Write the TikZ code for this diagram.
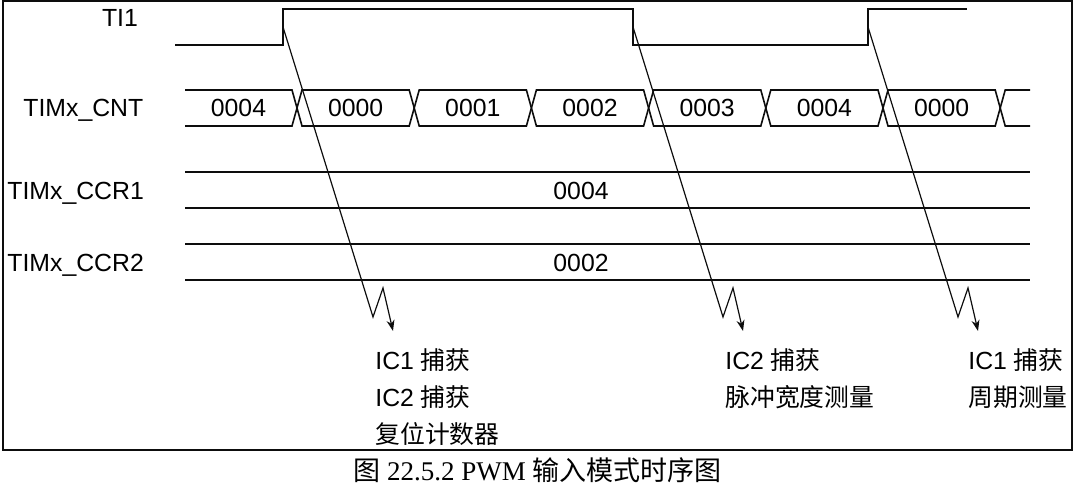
\documentclass[tikz,border=0pt]{standalone}
\usepackage{fontspec}
\setmainfont{Liberation Sans}
\newfontfamily\cjk{Noto Sans CJK SC}
\newfontfamily\capfont{Liberation Serif}
\usetikzlibrary{arrows.meta}
\definecolor{sigblack}{rgb}{0.05,0.05,0.05}
\newcommand{\drawcntcell}[4]{
  \draw[sig] (#2,108) -- (#2+5,90) -- (#3-5,90) -- (#3,108) -- (#3-5,126) -- (#2+5,126) -- cycle;
  \node[val] (#1) at ({(#2+#3)/2},108) {#4};
}
\newcommand{\drawcapture}[1]{
  \draw[capture] (#1) -- ++(90,290) -- ++(10,-29) -- ++(10,43);
}

\begin{document}
\begin{tikzpicture}[x=0.5pt,y=-0.5pt,
    sig/.style={sigblack,line width=0.8pt},
    capture/.style={sigblack,line width=0.6pt,-{Stealth[length=5.5pt,width=4pt]}},
    val/.style={font=\fontsize{12.4}{14}\selectfont,inner sep=0pt},
    sname/.style={font=\fontsize{12.4}{14}\selectfont,inner sep=0pt,anchor=base west},
    evt/.style={font=\fontsize{12.4}{14}\selectfont,inner sep=0pt,anchor=base west}]
      \useasboundingbox (0,0) rectangle (1075,490);
      \draw[sigblack,line width=1pt] (2.5,1.5) rectangle (1072,450);

      %% TI1
      \node[val,anchor=base] (ti1) at (120,27) {TI1};
      \draw[sig] (175,45) -- (283,45) -- (283,9) -- (633,9) -- (633,45) -- (868,45) -- (868,9) -- (967,9);
      \coordinate (rise1) at (283,27);
      \coordinate (fall1) at (633,27);
      \coordinate (rise2) at (868,27);

      %% TIMx_CNT
      \node[sname] (cnt) at (23,117) {TIMx\_CNT};
      \draw[sig] (185,90) -- (292,90) -- (297,108) -- (292,126) -- (185,126);
      \node[val] (cnt0) at (238.5,108) {0004};
      \drawcntcell{cnt1}{297}{414.2}{0000}
      \drawcntcell{cnt2}{414.2}{531.4}{0001}
      \drawcntcell{cnt3}{531.4}{648.6}{0002}
      \drawcntcell{cnt4}{648.6}{765.8}{0003}
      \drawcntcell{cnt5}{765.8}{883}{0004}
      \drawcntcell{cnt6}{883}{1000.2}{0000}
      \draw[sig] (1030,90) -- (1005.2,90) -- (1000.2,108) -- (1005.2,126) -- (1030,126);

      %% TIMx_CCR1
      \node[sname] (ccr1) at (7,200) {TIMx\_CCR1};
      \draw[sig] (185,172) -- (1030,172);
      \draw[sig] (185,208) -- (1030,208);
      \node[val] (ccr1val) at (581,190.5) {0004};

      %% TIMx_CCR2
      \node[sname] (ccr2) at (7,272) {TIMx\_CCR2};
      \draw[sig] (185,244) -- (1030,244);
      \draw[sig] (185,280) -- (1030,280);
      \node[val] (ccr2val) at (581,262.5) {0002};

      %% captures
      \drawcapture{rise1}
      \drawcapture{fall1}
      \drawcapture{rise2}

      \node[evt] (ev1a) at (375,370) {IC1 {\cjk 捕获}};
      \node[evt] (ev1b) at (375,407) {IC2 {\cjk 捕获}};
      \node[evt] (ev1c) at (375,444) {\cjk 复位计数器};

      \node[evt] (ev2a) at (725,370) {IC2 {\cjk 捕获}};
      \node[evt] (ev2b) at (725,407) {\cjk 脉冲宽度测量};

      \node[evt] (ev3a) at (968,370) {IC1 {\cjk 捕获}};
      \node[evt] (ev3b) at (968,407) {\cjk 周期测量};

      %% caption
      \node[inner sep=0pt,anchor=base,font=\fontsize{13.5}{15}\capfont] (title) at (537.5,481)
        {{\cjk 图} 22.5.2 PWM {\cjk 输入模式时序图}};
    \end{tikzpicture}
\end{document}
